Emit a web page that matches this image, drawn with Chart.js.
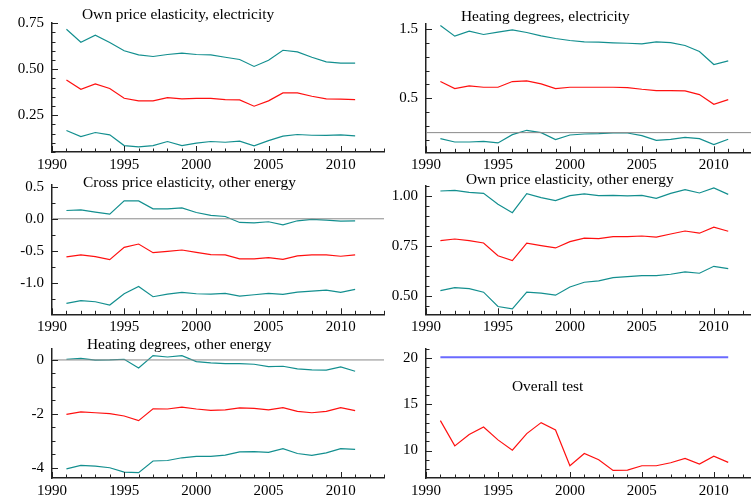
<!DOCTYPE html>
<html lang="en">
<head>
  <meta charset="UTF-8" />
  <title>Recursive estimates</title>
  <script src="https://cdn.jsdelivr.net/npm/chart.js"></script>
  <style>
    html, body { margin: 0; padding: 0; background: #fff; overflow: hidden; width: 751px; height: 503px; }
    canvas { position: absolute; }
  </style>
</head>
<body>

  <canvas id="p1"></canvas>
  <canvas id="p2"></canvas>
  <canvas id="p3"></canvas>
  <canvas id="p4"></canvas>
  <canvas id="p5"></canvas>
  <canvas id="p6"></canvas>

  <script>
    // years of the recursive estimates
    const years = [1991, 1992, 1993, 1994, 1995, 1996, 1997, 1998, 1999, 2000, 2001,
                   2002, 2003, 2004, 2005, 2006, 2007, 2008, 2009, 2010, 2011];
    const xTicks = [1990, 1995, 2000, 2005, 2010];

    // own price elasticity, electricity (upper band, estimate, lower band)
    const ownElecHi  = [0.717, 0.647, 0.685, 0.645, 0.600, 0.578, 0.569, 0.580, 0.587, 0.580, 0.578, 0.565, 0.553, 0.515, 0.549, 0.603, 0.594, 0.565, 0.540, 0.533, 0.533];
    const ownElecMid = [0.442, 0.391, 0.420, 0.395, 0.342, 0.328, 0.328, 0.346, 0.339, 0.341, 0.342, 0.335, 0.333, 0.299, 0.328, 0.371, 0.371, 0.353, 0.339, 0.337, 0.335];
    const ownElecLo  = [0.167, 0.134, 0.156, 0.143, 0.085, 0.078, 0.085, 0.107, 0.085, 0.098, 0.107, 0.103, 0.109, 0.083, 0.112, 0.136, 0.145, 0.141, 0.140, 0.143, 0.138];
    const yTicks1 = [0.25, 0.50, 0.75];

    // heating degrees, electricity
    const heatElecHi  = [1.558, 1.403, 1.476, 1.427, 1.461, 1.495, 1.456, 1.408, 1.369, 1.340, 1.320, 1.316, 1.306, 1.300, 1.290, 1.320, 1.310, 1.267, 1.180, 0.990, 1.044];
    const heatElecMid = [0.743, 0.641, 0.680, 0.660, 0.660, 0.743, 0.752, 0.709, 0.641, 0.660, 0.660, 0.660, 0.660, 0.655, 0.631, 0.612, 0.612, 0.607, 0.553, 0.413, 0.481];
    const heatElecLo  = [-0.087, -0.136, -0.136, -0.126, -0.150, -0.029, 0.034, 0.000, -0.102, -0.034, -0.020, -0.015, -0.005, -0.005, -0.044, -0.112, -0.097, -0.068, -0.087, -0.175, -0.097];
    const yTicks2 = [0.5, 1.5];

    // cross price elasticity, other energy
    const crossOthHi  = [0.129, 0.139, 0.103, 0.072, 0.278, 0.278, 0.155, 0.155, 0.170, 0.098, 0.052, 0.036, -0.057, -0.062, -0.046, -0.093, -0.031, -0.010, -0.021, -0.036, -0.031];
    const crossOthMid = [-0.593, -0.562, -0.588, -0.634, -0.443, -0.392, -0.526, -0.505, -0.485, -0.521, -0.557, -0.562, -0.624, -0.624, -0.603, -0.629, -0.577, -0.562, -0.562, -0.582, -0.562];
    const crossOthLo  = [-1.314, -1.273, -1.289, -1.340, -1.165, -1.052, -1.211, -1.170, -1.144, -1.165, -1.170, -1.160, -1.200, -1.180, -1.160, -1.175, -1.139, -1.124, -1.108, -1.144, -1.098];
    const yTicks3 = [-1.0, -0.5, 0.0, 0.5];

    // own price elasticity, other energy
    const ownOthHi  = [1.025, 1.028, 1.018, 1.013, 0.958, 0.916, 1.012, 0.992, 0.977, 1.002, 1.010, 1.002, 1.003, 1.000, 1.003, 0.988, 1.013, 1.032, 1.015, 1.040, 1.008];
    const ownOthMid = [0.776, 0.784, 0.776, 0.764, 0.700, 0.676, 0.763, 0.751, 0.739, 0.771, 0.788, 0.786, 0.796, 0.796, 0.799, 0.793, 0.809, 0.824, 0.813, 0.843, 0.823];
    const ownOthLo  = [0.525, 0.540, 0.535, 0.517, 0.445, 0.433, 0.517, 0.512, 0.502, 0.543, 0.567, 0.574, 0.590, 0.595, 0.600, 0.600, 0.607, 0.619, 0.612, 0.647, 0.635];
    const yTicks4 = [0.50, 0.75, 1.00];

    // heating degrees, other energy
    const heatOthHi  = [0.025, 0.060, -0.010, 0.000, 0.025, -0.295, 0.160, 0.110, 0.160, -0.060, -0.110, -0.135, -0.135, -0.160, -0.246, -0.234, -0.332, -0.370, -0.380, -0.258, -0.418];
    const heatOthMid = [-2.02, -1.93, -1.96, -1.99, -2.08, -2.25, -1.81, -1.82, -1.75, -1.82, -1.87, -1.85, -1.78, -1.80, -1.85, -1.77, -1.91, -1.96, -1.91, -1.77, -1.88];
    const heatOthLo  = [-4.04, -3.91, -3.94, -4.00, -4.16, -4.18, -3.75, -3.73, -3.63, -3.58, -3.58, -3.53, -3.41, -3.40, -3.43, -3.29, -3.47, -3.54, -3.45, -3.29, -3.32];
    const yTicks5 = [-4, -2, 0];

    // overall test statistic and its critical value
    const overallTest = [13.24, 10.50, 11.73, 12.55, 11.15, 10.04, 11.83, 13.02, 12.23, 8.35, 9.68, 8.99, 7.84, 7.88, 8.35, 8.35, 8.67, 9.14, 8.53, 9.39, 8.71];
    const critYears = [1991, 2011];
    const critValue = [20.1, 20.1];
    const yTicks6 = [10, 15, 20];

    const zeroYears = [1990, 2013];
    const zeroLine = [0, 0];

    const TEAL = '#138f8f', RED = '#ff1010', BLUE = '#6a6aff', GREY = '#8a8a8a';
    const FONT = '"Liberation Serif", "DejaVu Serif", serif';

    function pts(xs, ys) { return xs.map((x, i) => ({ x: x, y: ys[i] })); }
    function line(xs, ys, color, width) {
      return { data: pts(xs, ys), borderColor: color, borderWidth: width || 1.2, pointRadius: 0, tension: 0, fill: false };
    }

    const panels = [
      { id: 'p1', box: [0, 0, 390, 175], plot: [52, 384, 22.3, 152], y: [0.05, 0.755], ticks: yTicks1, dec: 2, minor: 0.05,
        texts: [['Own price elasticity, electricity', 82, 15]],
        sets: [line(years, ownElecHi, TEAL), line(years, ownElecMid, RED), line(years, ownElecLo, TEAL)] },
      { id: 'p2', box: [375, 0, 390, 175], plot: [426, 757, 23.3, 152.3], y: [-0.286, 1.59], ticks: yTicks2, dec: 1, minor: 0.2, minorBase: 0.5,
        texts: [['Heating degrees, electricity', 86, 17]],
        sets: [line(zeroYears, zeroLine, GREY, 1), line(years, heatElecHi, TEAL), line(years, heatElecMid, RED), line(years, heatElecLo, TEAL)] },
      { id: 'p3', box: [0, 168, 390, 170], plot: [52, 384, 184.3, 314.3], y: [-1.484, 0.525], ticks: yTicks3, dec: 1, minor: 0.25,
        texts: [['Cross price elasticity, other energy', 83, 15]],
        sets: [line(zeroYears, zeroLine, GREY, 1), line(years, crossOthHi, TEAL), line(years, crossOthMid, RED), line(years, crossOthLo, TEAL)] },
      { id: 'p4', box: [375, 168, 390, 170], plot: [426, 757, 186, 314.3], y: [0.406, 1.05], ticks: yTicks4, dec: 2, minor: 0.05,
        texts: [['Own price elasticity, other energy', 91, 12]],
        sets: [line(years, ownOthHi, TEAL), line(years, ownOthMid, RED), line(years, ownOthLo, TEAL)] },
      { id: 'p5', box: [0, 332, 390, 171], plot: [52, 384, 348.3, 478], y: [-4.38, 0.406], ticks: yTicks5, dec: 0, minor: 0.5,
        texts: [['Heating degrees, other energy', 87, 13]],
        sets: [line(zeroYears, zeroLine, GREY, 1), line(years, heatOthHi, TEAL), line(years, heatOthMid, RED), line(years, heatOthLo, TEAL)] },
      { id: 'p6', box: [375, 332, 390, 171], plot: [426, 757, 348.3, 478], y: [7.02, 21.0], ticks: yTicks6, dec: 0, minor: 1,
        texts: [['Overall test', 137, 55]],
        sets: [line(critYears, critValue, BLUE, 2), line(years, overallTest, RED)] }
    ];

    // small inward ticks, like the original package draws them
    const innerTicks = {
      id: 'innerTicks',
      afterDraw(chart) {
        const p = chart.options.plugins.innerTicks;
        const { ctx, chartArea: a, scales: { x, y } } = chart;
        ctx.save();
        ctx.strokeStyle = '#222';
        ctx.lineWidth = 1;
        ctx.beginPath();
        for (let yr = Math.ceil(x.min); yr <= x.max; yr++) {
          const px = Math.round(x.getPixelForValue(yr)) + 0.5;
          const len = yr % 5 === 0 ? 6 : 3.5;
          ctx.moveTo(px, a.bottom);
          ctx.lineTo(px, a.bottom - len);
        }
        const base = p.minorBase || 0;
        for (let k = Math.ceil((y.min - base) / p.minor); base + k * p.minor <= y.max + 1e-9; k++) {
          const v = base + k * p.minor;
          const py = Math.round(y.getPixelForValue(v)) + 0.5;
          const major = p.ticks.some(t => Math.abs(t - v) < 1e-6);
          ctx.moveTo(a.left, py);
          ctx.lineTo(a.left + (major ? 6 : 3.5), py);
        }
        ctx.stroke();
        ctx.fillStyle = '#000';
        ctx.font = '15.4px ' + FONT;
        ctx.textBaseline = 'middle';
        p.texts.forEach(t => ctx.fillText(t[0], t[1], t[2]));
        ctx.restore();
      }
    };

    panels.forEach(p => {
      const [bl, bt, bw, bh] = p.box;
      const [pl, pr, pt, pb] = p.plot;
      const cv = document.getElementById(p.id);
      cv.width = bw; cv.height = bh;
      cv.style.left = bl + 'px'; cv.style.top = bt + 'px';

      new Chart(cv, {
        type: 'line',
        data: { datasets: p.sets },
        options: {
          responsive: false,
          animation: false,
          layout: { padding: { left: 0, top: pt - bt, right: bl + bw - pr, bottom: 0 } },
          plugins: {
            legend: { display: false },
            tooltip: { enabled: false },
            innerTicks: { ticks: p.ticks, minor: p.minor, minorBase: p.minorBase, texts: p.texts }
          },
          scales: {
            x: {
              type: 'linear', min: 1990, max: 2013,
              afterBuildTicks: s => { s.ticks = xTicks.map(v => ({ value: v })); },
              afterFit: s => { s.height = bh - (pb - bt); },
              grid: { display: false, drawTicks: false },
              border: { display: true, color: '#222', width: 1.5 },
              ticks: { color: '#000', font: { family: FONT, size: 15 }, padding: 4, maxRotation: 0, autoSkip: false,
                       callback: v => String(v) }
            },
            y: {
              min: p.y[0], max: p.y[1],
              afterBuildTicks: s => { s.ticks = p.ticks.map(v => ({ value: v })); },
              afterFit: s => { s.width = pl - bl; },
              grid: { display: false, drawTicks: false },
              border: { display: true, color: '#222', width: 1.5 },
              ticks: { color: '#000', font: { family: FONT, size: 15 }, padding: 8,
                       callback: v => Number(v).toFixed(p.dec) }
            }
          }
        },
        plugins: [innerTicks]
      });
    });
  </script>
</body>
</html>
